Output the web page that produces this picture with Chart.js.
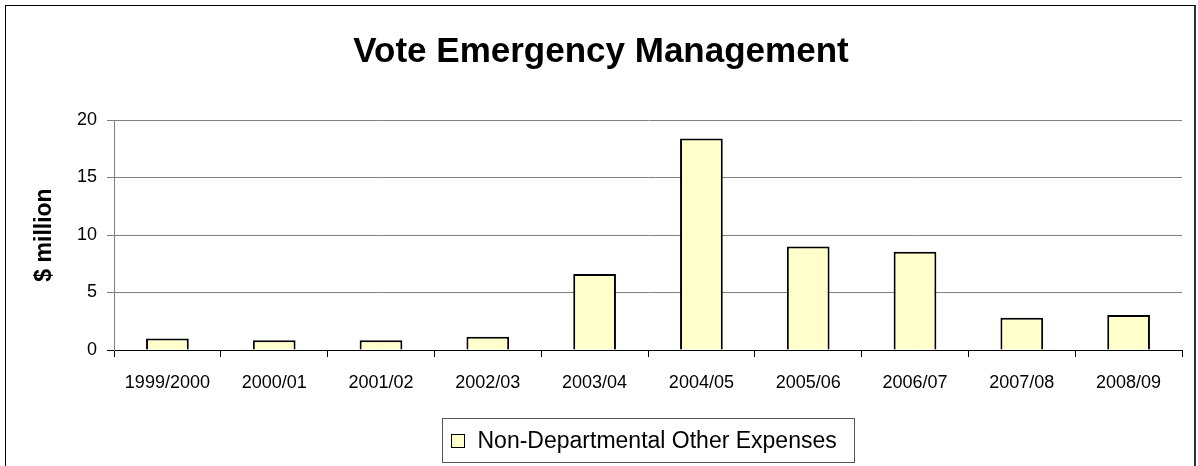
<!DOCTYPE html>
<html><head><meta charset="utf-8">
<script src="https://cdn.jsdelivr.net/npm/chart.js@4/dist/chart.umd.min.js"></script>
<style>
html,body{margin:0;padding:0;background:#fff;}
#wrap{position:relative;width:1198px;height:466px;overflow:hidden;}
#frame{position:absolute;left:5px;top:5px;width:1188px;height:470px;border-left:1px solid #000;border-top:1px solid #000;border-right:2px solid #333;pointer-events:none;}
canvas{position:absolute;left:0;top:0;}
</style></head><body>
<div id="wrap"><canvas id="c" width="1198" height="466" style="width:1198px;height:466px"></canvas><div id="frame"></div></div>
<script>
const chartTitle = 'Vote Emergency Management';
const yAxisTitle = '$ million';
const categories = ['1999/2000','2000/01','2001/02','2002/03','2003/04','2004/05','2005/06','2006/07','2007/08','2008/09'];
const seriesLabel = 'Non-Departmental Other Expenses';
const seriesValues = [1.0, 0.85, 0.85, 1.15, 6.6, 18.4, 9.0, 8.55, 2.8, 3.05];
const yTickValues = [0, 5, 10, 15, 20];

const F = '"Liberation Sans", Arial, sans-serif';

const boxLegend = {
  id: 'boxLegend',
  afterDraw(chart) {
    const ctx = chart.ctx, ds = chart.data.datasets[0];
    const a = chart.chartArea;
    ctx.save();
    ctx.font = '23px ' + F;
    const tw = ctx.measureText(ds.label).width;
    const sq = 14, gap = 12, padL = 9, padR = 18;
    const w = Math.round(padL + sq + gap + tw + padR);
    const cx = (a.left + a.right) / 2;
    const x0 = Math.round(cx - w / 2) + 0.5;
    const y0 = Math.round(chart.scales.x.bottom + 18) + 0.5;
    const h = 44;
    ctx.lineWidth = 1;
    ctx.strokeStyle = '#555';
    ctx.strokeRect(x0, y0, w, h);
    const cy = y0 + h / 2;
    ctx.fillStyle = ds.backgroundColor;
    ctx.fillRect(x0 + padL, Math.round(cy - 7), sq, sq);
    ctx.strokeStyle = '#000';
    ctx.strokeRect(x0 + padL, Math.round(cy - 7) + 0.5, sq - 1, sq - 1);
    ctx.fillStyle = '#000';
    ctx.textBaseline = 'middle';
    ctx.textAlign = 'left';
    ctx.fillText(ds.label, x0 + padL + sq + gap, cy + 1);
    ctx.restore();
  }
};

new Chart(document.getElementById('c'), {
  type: 'bar',
  data: {
    labels: categories,
    datasets: [{
      label: seriesLabel,
      data: seriesValues,
      backgroundColor: '#FFFFCC',
      borderColor: '#000000',
      borderWidth: 2,
      barPercentage: 0.4,
      categoryPercentage: 1.0
    }]
  },
  options: {
    responsive: false,
    animation: false,
    devicePixelRatio: 1,
    layout: { padding: { left: 20, right: 16, top: 0, bottom: 66 } },
    plugins: {
      legend: { display: false },
      tooltip: { enabled: false },
      title: {
        display: true, text: chartTitle, color: '#000',
        font: { size: 35, weight: 'bold', family: F },
        padding: { top: 31, bottom: 47 }
      }
    },
    scales: {
      x: {
        grid: { display: true, drawOnChartArea: false, drawTicks: true, tickLength: 7, offset: true, color: '#000' },
        border: { color: '#000', width: 1 },
        ticks: { color: '#000', font: { size: 18, family: F }, padding: 15, maxRotation: 0, autoSkip: false },
        afterFit: s => { s.height = 50; }
      },
      y: {
        min: 0, max: 20,
        afterBuildTicks: s => { s.ticks = yTickValues.map(v => ({ value: v })); },
        afterFit: s => { s.width = 94; },
        grid: { color: c => (c.tick && c.tick.value === 0) ? '#000' : '#808080', lineWidth: 1, tickLength: 7, drawTicks: true },
        border: { color: '#808080', width: 1 },
        ticks: { color: '#000', font: { size: 18, family: F }, padding: 10 },
        title: { display: true, text: yAxisTitle, color: '#000', font: { size: 23, weight: 'bold', family: F }, padding: { top: 11, bottom: 0 } }
      }
    }
  },
  plugins: [boxLegend]
});
</script>
</body></html>
